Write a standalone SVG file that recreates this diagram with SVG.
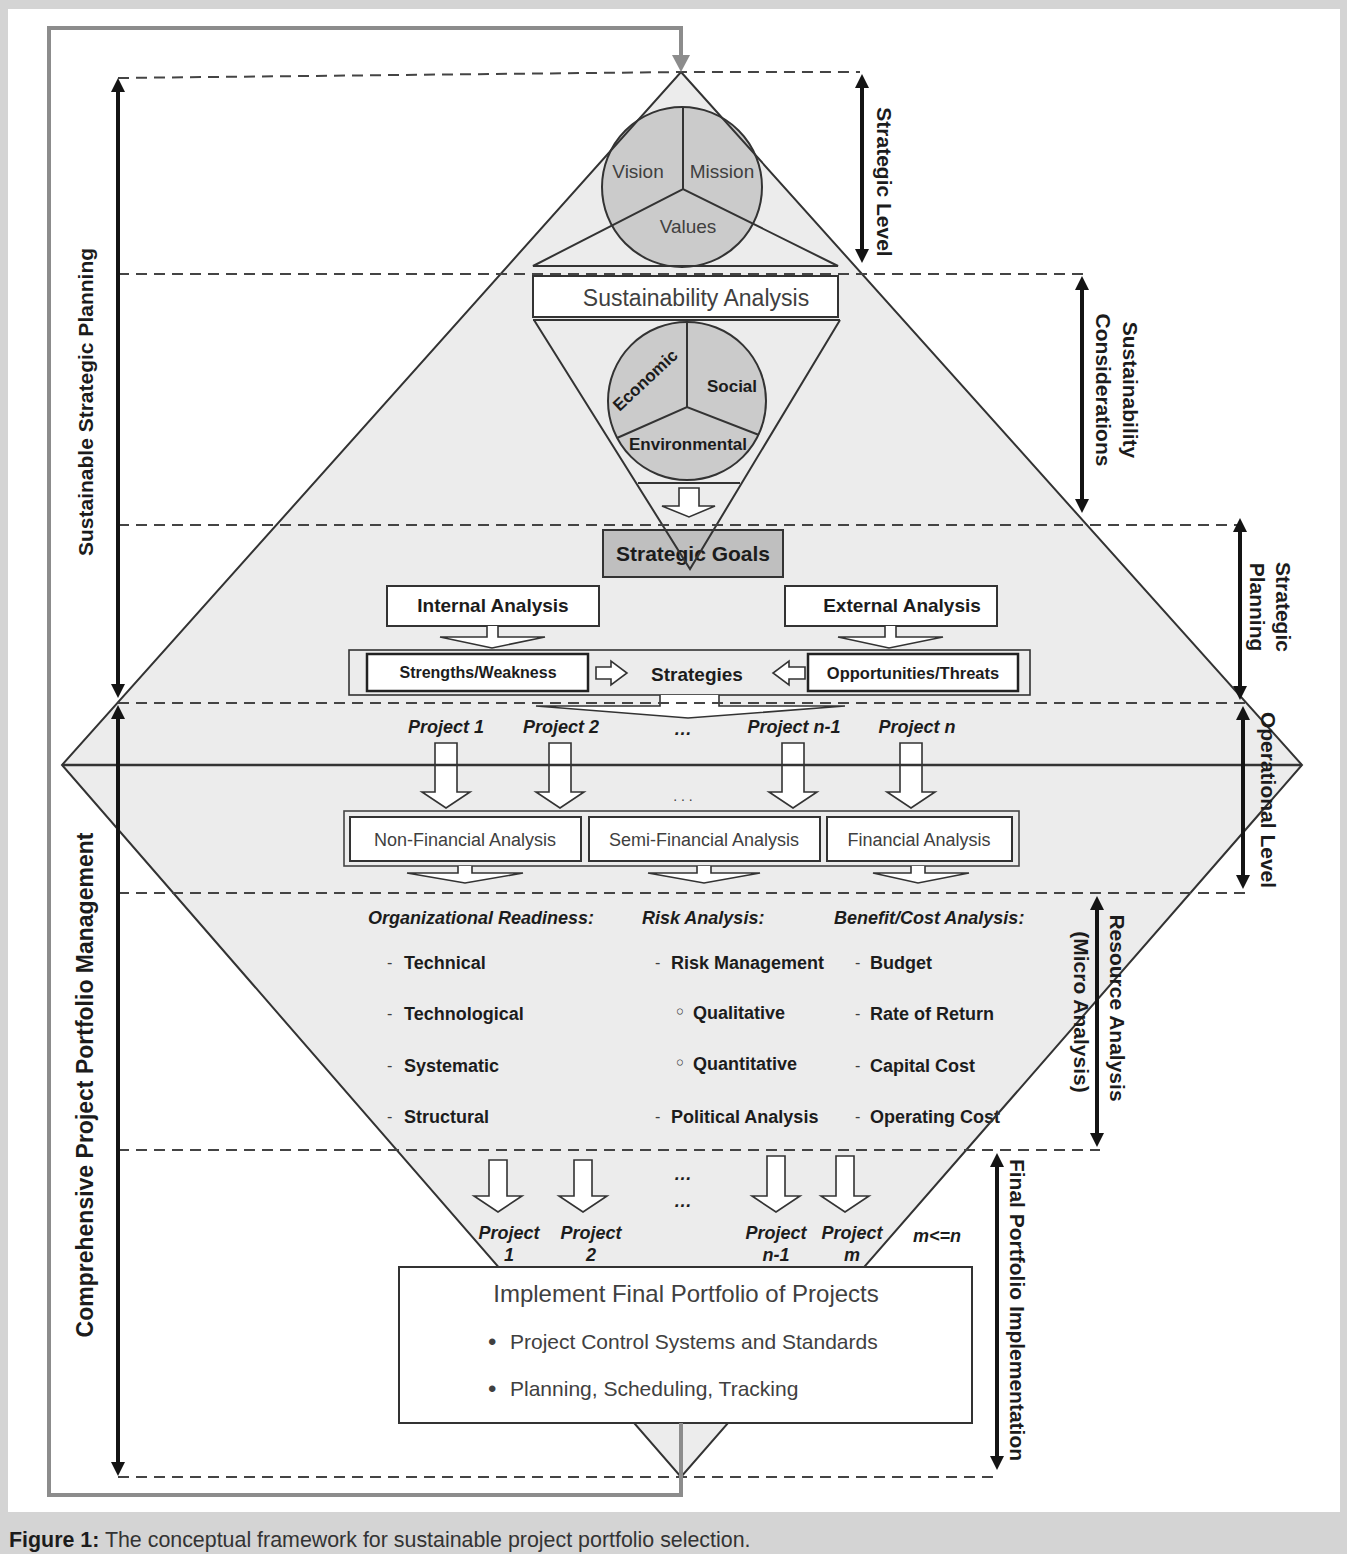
<svg xmlns="http://www.w3.org/2000/svg" width="1347" height="1554" viewBox="0 0 1347 1554">
<defs>
<style>
.r{font-family:"Liberation Sans",Arial,sans-serif;fill:#404040}
.b{font-family:"Liberation Sans",Arial,sans-serif;font-weight:bold;fill:#1c1c1c}
.bi{font-family:"Liberation Sans",Arial,sans-serif;font-weight:bold;font-style:italic;fill:#1c1c1c}
.m{text-anchor:middle}
.rot{text-anchor:middle;dominant-baseline:central}
.ol{fill:none;stroke:#333;stroke-width:2}
.dash{fill:none;stroke:#444;stroke-width:2;stroke-dasharray:11 7}
.wbox{fill:#fff;stroke:#333;stroke-width:2}
.ha{fill:#fff;stroke:#333;stroke-width:1.6}
.dim{fill:none;stroke:#141414;stroke-width:4;marker-start:url(#ah);marker-end:url(#ah)}
.loop{fill:none;stroke:#8c8c8c;stroke-width:4}
.circ{fill:#cbcbcb;stroke:#333;stroke-width:2}
</style>
<marker id="ah" viewBox="0 0 10 10" refX="2" refY="5" markerWidth="3.6" markerHeight="3.6" orient="auto-start-reverse"><path d="M0,0 L10,5 L0,10 Z" fill="#141414"/></marker>
</defs>

<g id="background">
<rect width="1347" height="1554" fill="#d4d4d4"/>
<rect x="8" y="9" width="1332" height="1503" fill="#fff"/>
<polygon points="681,72 1302,765 681,1477 62,765" fill="#ececec"/>
</g>

<g id="strategic-core">
<circle class="circ" cx="682" cy="187" r="80"/>
<path class="ol" d="M683,107 V189 M533,266 L683,189 L838,266 Z"/>
<text class="r m" x="638" y="178" font-size="19">Vision</text>
<text class="r m" x="722" y="178" font-size="19">Mission</text>
<text class="r m" x="688" y="233" font-size="19">Values</text>
</g>

<g id="sustainability-analysis">
<rect class="wbox" x="533" y="276" width="305" height="41"/>
<path class="ol" d="M533,320 H840"/>
<text class="r m" x="696" y="306" font-size="23">Sustainability Analysis</text>
</g>

<g id="sustainability-pillars">
<circle class="circ" cx="687" cy="401" r="79"/>
<path class="ol" d="M687,322 V407 M617,438 L687,407 L759,435"/>
<text class="b m" x="645" y="386" font-size="17" transform="rotate(-43 645 380)">Economic</text>
<text class="b m" x="732" y="392" font-size="17">Social</text>
<text class="b m" x="688" y="450" font-size="17">Environmental</text>
<path class="ol" d="M638,483 H740"/>
<path class="ha" d="M679,488 H699 V506 H715 L689,517 L662,506 H679 Z"/>
</g>

<g id="strategic-goals">
<rect x="603" y="530" width="180" height="47" fill="#bfbfbf" stroke="#333" stroke-width="2"/>
<text class="b m" x="693" y="561" font-size="21">Strategic Goals</text>
<path class="ol" d="M534,320 L690,569 L840,320"/>
</g>

<g id="internal-analysis">
<rect class="wbox" x="387" y="586" width="212" height="40"/>
<text class="b m" x="493" y="612" font-size="19">Internal Analysis</text>
<path class="ha" d="M487,626 V637 H440 L492,648 L545,637 H498 V626"/>
</g>

<g id="external-analysis">
<rect class="wbox" x="785" y="586" width="212" height="40"/>
<text class="b m" x="902" y="612" font-size="19">External Analysis</text>
<path class="ha" d="M885,626 V637 H838 L889,648 L943,637 H896 V626"/>
</g>

<g id="strategies">
<rect x="349" y="650" width="681" height="45" fill="none" stroke="#333" stroke-width="1.6"/>
<rect x="367" y="654" width="221" height="37" fill="#fff" stroke="#222" stroke-width="2.5"/>
<text class="b m" x="478" y="678" font-size="16">Strengths/Weakness</text>
<path class="ha" d="M596,667 H611 V661 L627,673 L611,685 V679 H596 Z"/>
<text class="b m" x="697" y="681" font-size="19">Strategies</text>
<path class="ha" d="M805,667 H789 V661 L773,673 L789,685 V679 H805 Z"/>
<rect x="808" y="654" width="210" height="37" fill="#fff" stroke="#222" stroke-width="2.5"/>
<text class="b m" x="913" y="679" font-size="16.5">Opportunities/Threats</text>
<path class="ha" d="M660,695 V706 H536 L688,718 L845,706 H719 V695"/>
</g>

<g id="projects">
<text class="bi m" x="446" y="733" font-size="18">Project 1</text>
<text class="bi m" x="561" y="733" font-size="18">Project 2</text>
<text class="bi m" x="683" y="735" font-size="18">…</text>
<text class="bi m" x="794" y="733" font-size="18">Project n-1</text>
<text class="bi m" x="917" y="733" font-size="18">Project n</text>
<path class="ha" d="M435,743 H457 V792 H470 L446,808 L422,792 H435 Z"/>
<path class="ha" d="M549,743 H571 V792 H584 L560,808 L536,792 H549 Z"/>
<path class="ha" d="M782,743 H804 V792 H817 L793,808 L769,792 H782 Z"/>
<path class="ha" d="M900,743 H922 V792 H935 L911,808 L887,792 H900 Z"/>
<text class="r m" x="683" y="801" font-size="14">. . .</text>
</g>

<g id="analysis">
<rect x="344" y="811" width="675" height="55" fill="none" stroke="#444" stroke-width="1.6"/>
<rect class="wbox" x="350" y="817" width="231" height="44"/>
<rect class="wbox" x="589" y="817" width="231" height="44"/>
<rect class="wbox" x="827" y="817" width="185" height="44"/>
<text class="r m" x="465" y="846" font-size="18">Non-Financial Analysis</text>
<text class="r m" x="704" y="846" font-size="18">Semi-Financial Analysis</text>
<text class="r m" x="919" y="846" font-size="18">Financial Analysis</text>
<path class="ha" d="M458,866 V873 H407 L465,883 L523,873 H472 V866"/>
<path class="ha" d="M697,866 V873 H648 L704,883 L760,873 H711 V866"/>
<path class="ha" d="M911,866 V873 H873 L918,883 L969,873 H925 V866"/>
</g>

<g id="criteria">
<text class="bi" x="368" y="924" font-size="18">Organizational Readiness:</text>
<text class="bi" x="642" y="924" font-size="18">Risk Analysis:</text>
<text class="bi" x="834" y="924" font-size="18">Benefit/Cost Analysis:</text>
<g class="r" font-size="16">
<text x="387" y="968">-</text><text x="387" y="1019">-</text><text x="387" y="1071">-</text><text x="387" y="1122">-</text>
<text x="655" y="968">-</text><text x="655" y="1122">-</text>
<text x="855" y="968">-</text><text x="855" y="1019">-</text><text x="855" y="1071">-</text><text x="855" y="1122">-</text>
</g>
<text x="674" y="1019" font-size="20" style="font-family:'DejaVu Sans',sans-serif;fill:#333">◦</text>
<text x="674" y="1070" font-size="20" style="font-family:'DejaVu Sans',sans-serif;fill:#333">◦</text>
<g class="b" font-size="18">
<text x="404" y="969">Technical</text>
<text x="404" y="1020">Technological</text>
<text x="404" y="1072">Systematic</text>
<text x="404" y="1123">Structural</text>
<text x="671" y="969">Risk Management</text>
<text x="693" y="1019">Qualitative</text>
<text x="693" y="1070">Quantitative</text>
<text x="671" y="1123">Political Analysis</text>
<text x="870" y="969">Budget</text>
<text x="870" y="1020">Rate of Return</text>
<text x="870" y="1072">Capital Cost</text>
<text x="870" y="1123">Operating Cost</text>
</g>
</g>

<g id="outline">
<polygon class="ol" points="681,72 1302,765 681,1477 62,765"/>
<path d="M62,765 H1302" stroke="#333" stroke-width="2.5" fill="none"/>
</g>

<g id="selected-projects">
<path class="ha" d="M489,1160 H507 V1196 H522 L498,1212 L474,1196 H489 Z"/>
<path class="ha" d="M574,1160 H592 V1196 H607 L583,1212 L559,1196 H574 Z"/>
<path class="ha" d="M767,1156 H785 V1196 H800 L776,1212 L752,1196 H767 Z"/>
<path class="ha" d="M836,1156 H854 V1196 H869 L845,1212 L821,1196 H836 Z"/>
<text class="bi m" x="683" y="1180" font-size="18">…</text>
<text class="bi m" x="683" y="1207" font-size="18">…</text>
<g class="bi m" font-size="18">
<text x="509" y="1239">Project</text><text x="509" y="1261">1</text>
<text x="591" y="1239">Project</text><text x="591" y="1261">2</text>
<text x="776" y="1239">Project</text><text x="776" y="1261">n-1</text>
<text x="852" y="1239">Project</text><text x="852" y="1261">m</text>
<text x="937" y="1242">m&lt;=n</text>
</g>
</g>

<g id="dashed-levels">
<path class="dash" d="M118,78 L681,72 H860"/>
<path class="dash" d="M118,274 H1085"/>
<path class="dash" d="M118,525 H1240"/>
<path class="dash" d="M118,703 H1245"/>
<path class="dash" d="M118,893 H1245"/>
<path class="dash" d="M118,1150 H1100"/>
<path class="dash" d="M118,1477 H1000"/>
</g>

<g id="implement-portfolio">
<rect class="wbox" x="399" y="1267" width="573" height="156"/>
<text class="r m" x="686" y="1302" font-size="24">Implement Final Portfolio of Projects</text>
<text class="r" x="488" y="1350" font-size="24">•</text>
<text class="r" x="510" y="1349" font-size="21">Project Control Systems and Standards</text>
<text class="r" x="488" y="1397" font-size="24">•</text>
<text class="r" x="510" y="1396" font-size="21">Planning, Scheduling, Tracking</text>
</g>

<g id="connectors">
<path class="loop" d="M681,1423 V1495 H49 V28 H681 V57"/>
<polygon points="672,55 690,55 681,72" fill="#8c8c8c"/>
<path class="dim" d="M118,89.5 V686.5"/>
<path class="dim" d="M118,716.5 V1464.5"/>
<path class="dim" d="M862,85.5 V251.5"/>
<path class="dim" d="M1082,287.5 V501.5"/>
<path class="dim" d="M1240,529.5 V688.5"/>
<path class="dim" d="M1243,717.5 V877.5"/>
<path class="dim" d="M1097,907.5 V1135.5"/>
<path class="dim" d="M997,1164.5 V1458.5"/>
</g>

<g id="level-labels" class="b" font-size="21">
<text class="rot" transform="translate(85,402) rotate(-90)">Sustainable Strategic Planning</text>
<text class="rot" font-size="23" transform="translate(85,1085) rotate(-90)">Comprehensive Project Portfolio Management</text>
<text class="rot" transform="translate(884,182) rotate(90)">Strategic Level</text>
<text class="rot" transform="translate(1130,390) rotate(90)">Sustainability</text>
<text class="rot" transform="translate(1103,390) rotate(90)">Considerations</text>
<text class="rot" transform="translate(1283,607) rotate(90)">Strategic</text>
<text class="rot" transform="translate(1257,607) rotate(90)">Planning</text>
<text class="rot" transform="translate(1268,800) rotate(90)">Operational Level</text>
<text class="rot" transform="translate(1117,1008) rotate(90)">Resource Analysis</text>
<text class="rot" transform="translate(1081,1012) rotate(90)">(Micro Analysis)</text>
<text class="rot" transform="translate(1017,1310) rotate(90)">Final Portfolio Implementation</text>
</g>

<g id="caption">
<text x="9" y="1547" font-size="21.4" style="font-family:'Liberation Sans',Arial,sans-serif;fill:#333"><tspan font-weight="bold" fill="#1c1c1c">Figure 1:</tspan> The conceptual framework for sustainable project portfolio selection.</text>
</g>
</svg>
